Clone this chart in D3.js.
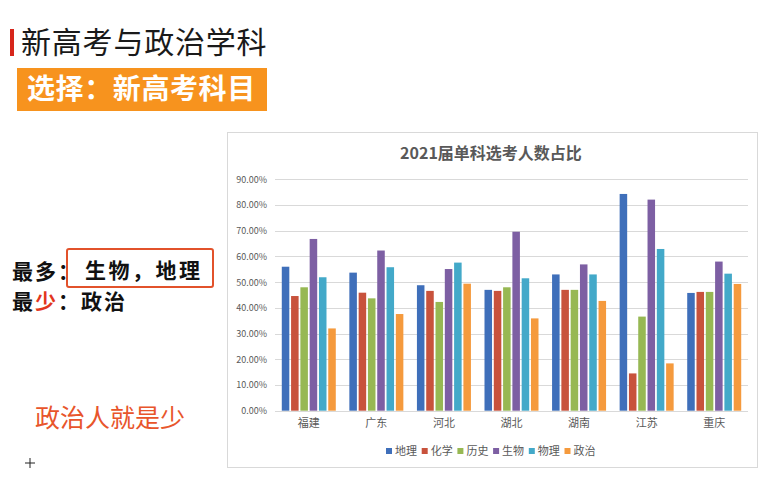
<!DOCTYPE html>
<html>
<head>
<meta charset="utf-8">
<script src="https://cdn.jsdelivr.net/npm/d3@7"></script>
<style>
  html, body { margin: 0; padding: 0; background: #ffffff; }
  svg { display: block; }
  text { font-family: "Noto Sans CJK SC", "Noto Sans", sans-serif; }
</style>
</head>
<body>
<svg id="chart" width="759" height="504"></svg>
<script>
// ---- Data ----
const provinces = ["福建", "广东", "河北", "湖北", "湖南", "江苏", "重庆"];
const subjects = ["地理", "化学", "历史", "生物", "物理", "政治"];
const geography = [0.560, 0.537, 0.488, 0.470, 0.530, 0.843, 0.458];
const chemistry = [0.446, 0.459, 0.466, 0.466, 0.470, 0.145, 0.462];
const history   = [0.480, 0.437, 0.423, 0.480, 0.470, 0.366, 0.462];
const biology   = [0.668, 0.623, 0.551, 0.696, 0.569, 0.821, 0.580];
const physics   = [0.519, 0.558, 0.576, 0.515, 0.530, 0.629, 0.533];
const politics  = [0.320, 0.376, 0.494, 0.359, 0.427, 0.184, 0.493];
const yTicks = [0, 0.1, 0.2, 0.3, 0.4, 0.5, 0.6, 0.7, 0.8, 0.9];
const chartTitle = "2021届单科选考人数占比";

const seriesValues = [geography, chemistry, history, biology, physics, politics];
const colors = ["#3f6fba", "#c8523c", "#97b853", "#7d5fa3", "#43a9c9", "#f59a3d"];

const svg = d3.select("#chart");

// ---- Left slide content ----
svg.append("rect").attr("x", 10).attr("y", 29).attr("width", 4).attr("height", 27).attr("fill", "#d7261b");
svg.append("text").attr("x", 21).attr("y", 53).attr("font-size", 30).attr("fill", "#1a1a1a")
  .attr("letter-spacing", 0.8).text("新高考与政治学科");

svg.append("rect").attr("x", 17).attr("y", 68).attr("width", 250).attr("height", 43).attr("fill", "#f7931e");
svg.append("text").attr("x", 27).attr("y", 99).attr("font-size", 28).attr("font-weight", "bold")
  .attr("fill", "#ffffff").attr("letter-spacing", 0.6).text("选择：新高考科目");

svg.append("text").attr("x", 12).attr("y", 279).attr("font-size", 21).attr("font-weight", "bold")
  .attr("fill", "#111").attr("letter-spacing", 2).text("最多：");
svg.append("rect").attr("x", 67).attr("y", 249).attr("width", 146).attr("height", 38).attr("rx", 2)
  .attr("fill", "none").attr("stroke", "#e2522b").attr("stroke-width", 2);
svg.append("text").attr("x", 85).attr("y", 278).attr("font-size", 21).attr("font-weight", "bold")
  .attr("fill", "#111").attr("letter-spacing", 2.5).text("生物，地理");

const l2 = svg.append("text").attr("x", 12).attr("y", 309).attr("font-size", 21).attr("font-weight", "bold")
  .attr("fill", "#111").attr("letter-spacing", 2);
l2.append("tspan").text("最");
l2.append("tspan").attr("fill", "#e2361d").text("少");
l2.append("tspan").text("：政治");

svg.append("text").attr("x", 35).attr("y", 427).attr("font-size", 25).attr("fill", "#e8552b").text("政治人就是少");

svg.append("path").attr("d", "M30,458 V468 M25,463 H35").attr("stroke", "#222").attr("stroke-width", 1).attr("fill", "none");

// ---- Chart panel ----
svg.append("rect").attr("x", 227.5).attr("y", 132.5).attr("width", 530).attr("height", 335)
  .attr("fill", "#ffffff").attr("stroke", "#d9d9d9").attr("stroke-width", 1);

svg.append("text").attr("x", 491).attr("y", 159).attr("text-anchor", "middle")
  .attr("font-size", 16).attr("font-weight", "bold").attr("fill", "#595959").text(chartTitle);

const margin = { left: 275, right: 748, top: 179.3, bottom: 410.7 };
const x = d3.scaleBand().domain(provinces).range([margin.left, margin.right]).paddingInner(0).paddingOuter(0);
const y = d3.scaleLinear().domain([0, 0.9]).range([margin.bottom, margin.top]);
const groupW = 54;
const xs = d3.scaleBand().domain(subjects).range([0, groupW]).paddingInner(0.19).paddingOuter(0);

// gridlines
svg.append("g").selectAll("line").data(yTicks).join("line")
  .attr("x1", margin.left).attr("x2", margin.right)
  .attr("y1", d => Math.round(y(d)) + 0.5).attr("y2", d => Math.round(y(d)) + 0.5)
  .attr("stroke", "#d9d9d9").attr("stroke-width", 1);

// y axis labels
const yAxis = d3.axisLeft(y).tickValues(yTicks).tickFormat(d3.format(".2%")).tickSize(0).tickPadding(8);
const yg = svg.append("g").attr("transform", `translate(${margin.left},0)`).call(yAxis);
yg.select(".domain").remove();
yg.selectAll("text").attr("font-size", 9).attr("fill", "#595959").attr("font-family", "Liberation Sans, Arial, sans-serif");

// bars
const groups = svg.append("g").selectAll("g").data(provinces).join("g")
  .attr("transform", d => `translate(${x(d) + (x.bandwidth() - groupW) / 2},0)`);
groups.selectAll("rect").data((p, i) => subjects.map((s, j) => ({ s, v: seriesValues[j][i], c: colors[j] })))
  .join("rect")
  .attr("x", d => xs(d.s)).attr("width", xs.bandwidth())
  .attr("y", d => y(d.v)).attr("height", d => y(0) - y(d.v))
  .attr("fill", d => d.c);

// baseline
svg.append("line").attr("x1", margin.left).attr("x2", margin.right)
  .attr("y1", Math.round(y(0)) + 0.5).attr("y2", Math.round(y(0)) + 0.5)
  .attr("stroke", "#d9d9d9");

// x axis labels
const xAxis = d3.axisBottom(x).tickSize(0).tickPadding(9);
const xg = svg.append("g").attr("transform", `translate(0,${margin.bottom})`).call(xAxis);
xg.select(".domain").remove();
xg.selectAll("text").attr("font-size", 11).attr("fill", "#595959").attr("font-family", "Noto Sans CJK SC, sans-serif");

// legend
const legendStep = 35.7;
const legendX0 = 386;
const lg = svg.append("g").selectAll("g").data(subjects).join("g")
  .attr("transform", (d, i) => `translate(${legendX0 + i * legendStep},451)`);
lg.append("rect").attr("x", 0).attr("y", -3).attr("width", 6).attr("height", 6).attr("fill", (d, i) => colors[i]);
lg.append("text").attr("x", 9).attr("y", 4).attr("font-size", 11).attr("fill", "#595959").text(d => d);
</script>
</body>
</html>
